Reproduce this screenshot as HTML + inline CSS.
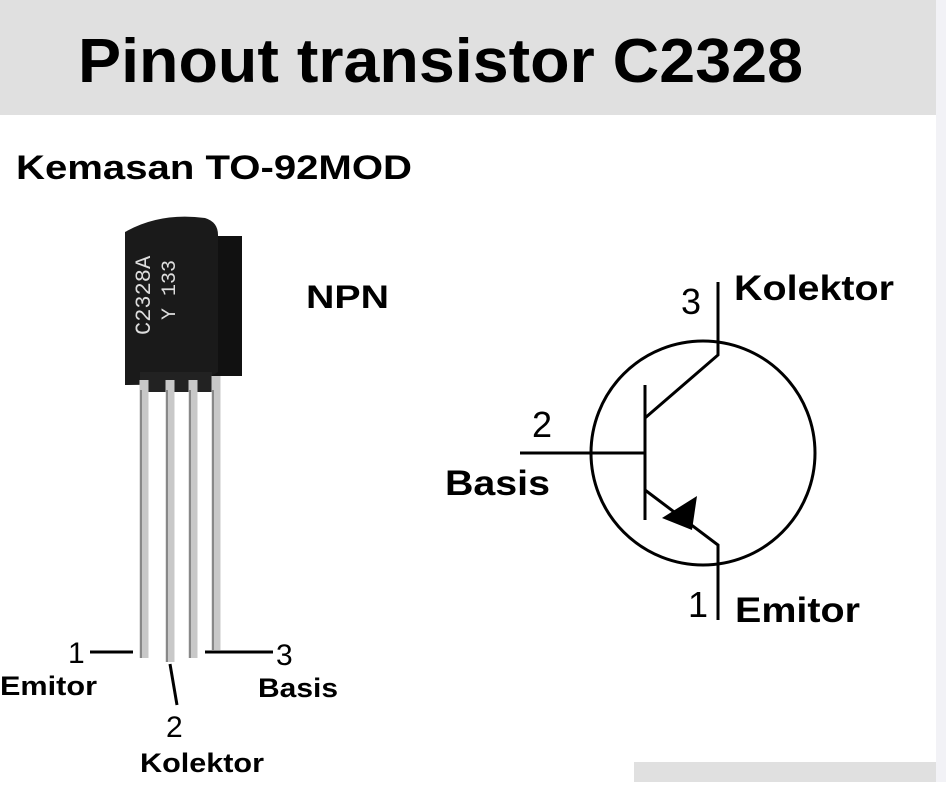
<!DOCTYPE html>
<html><head><style>
body{margin:0;width:946px;height:782px;overflow:hidden;background:#fff;font-family:"Liberation Sans",sans-serif;}
</style></head><body>
<svg width="946" height="782" viewBox="0 0 946 782" xmlns="http://www.w3.org/2000/svg" font-family="Liberation Sans, sans-serif" font-weight="bold">
<rect x="0" y="0" width="936" height="115" fill="#e0e0e0"/>
<rect x="936" y="0" width="10" height="782" fill="#f2f2f6"/>
<text x="78" y="82" font-size="62" textLength="725" lengthAdjust="spacingAndGlyphs" fill="#000">Pinout transistor C2328</text>
<text x="16" y="179" font-size="34" textLength="396" lengthAdjust="spacingAndGlyphs" fill="#000">Kemasan TO-92MOD</text>
<!-- transistor photo -->
<rect x="200" y="236" width="42" height="140" fill="#111"/>
<path d="M125 232 Q160 212 205 218 Q218 222 218 235 L218 372 Q200 385 125 385 Z" fill="#1a1a1a"/>
<path d="M140 372 L212 372 L212 392 L140 392 Z" fill="#222"/>
<g stroke="#c8c8c8" stroke-width="9">
<line x1="144" y1="380" x2="144" y2="658"/>
<line x1="170" y1="380" x2="170" y2="662"/>
<line x1="193" y1="380" x2="193" y2="658"/>
<line x1="216" y1="376" x2="216" y2="650"/>
</g>
<g stroke="#888" stroke-width="2">
<line x1="141" y1="390" x2="141" y2="658"/>
<line x1="167" y1="390" x2="167" y2="662"/>
<line x1="190" y1="390" x2="190" y2="658"/>
<line x1="213" y1="390" x2="213" y2="650"/>
</g>
<text transform="translate(150,335) rotate(-90)" font-size="22" font-weight="normal" fill="#ddd" font-family="Liberation Mono, monospace">C2328A</text>
<text transform="translate(175,320) rotate(-90)" font-size="20" font-weight="normal" fill="#ddd" font-family="Liberation Mono, monospace">Y 133</text>
<!-- labels -->
<g stroke="#000" stroke-width="3">
<line x1="90" y1="652" x2="133" y2="652"/>
<line x1="205" y1="652" x2="273" y2="652"/>
<line x1="170" y1="664" x2="177" y2="705"/>
</g>
<text x="68" y="663" font-size="30" font-weight="normal">1</text>
<text x="276" y="665" font-size="30" font-weight="normal">3</text>
<text x="166" y="737" font-size="30" font-weight="normal">2</text>
<text x="0" y="695" font-size="27" textLength="97" lengthAdjust="spacingAndGlyphs">Emitor</text>
<text x="258" y="697" font-size="27" textLength="80" lengthAdjust="spacingAndGlyphs">Basis</text>
<text x="140" y="772" font-size="27" textLength="124" lengthAdjust="spacingAndGlyphs">Kolektor</text>
<text x="306" y="308" font-size="32" textLength="83" lengthAdjust="spacingAndGlyphs">NPN</text>
<!-- symbol -->
<g stroke="#000" stroke-width="3" fill="none">
<circle cx="703" cy="453" r="112"/>
<line x1="520" y1="453" x2="645" y2="453"/>
<line x1="645" y1="385" x2="645" y2="520"/>
<polyline points="645,418 718,355 718,282"/>
<polyline points="645,490 718,545 718,620"/>
</g>
<polygon points="662,518 697,496 692,530" fill="#000"/>
<text x="681" y="314" font-size="36" font-weight="normal">3</text>
<text x="734" y="300" font-size="35" textLength="160" lengthAdjust="spacingAndGlyphs">Kolektor</text>
<text x="532" y="437" font-size="36" font-weight="normal">2</text>
<text x="445" y="495" font-size="35" textLength="105" lengthAdjust="spacingAndGlyphs">Basis</text>
<text x="688" y="617" font-size="36" font-weight="normal">1</text>
<text x="735" y="622" font-size="35" textLength="125" lengthAdjust="spacingAndGlyphs">Emitor</text>
<rect x="634" y="762" width="302" height="20" fill="#e0e0e0"/>
</svg>
</body></html>
